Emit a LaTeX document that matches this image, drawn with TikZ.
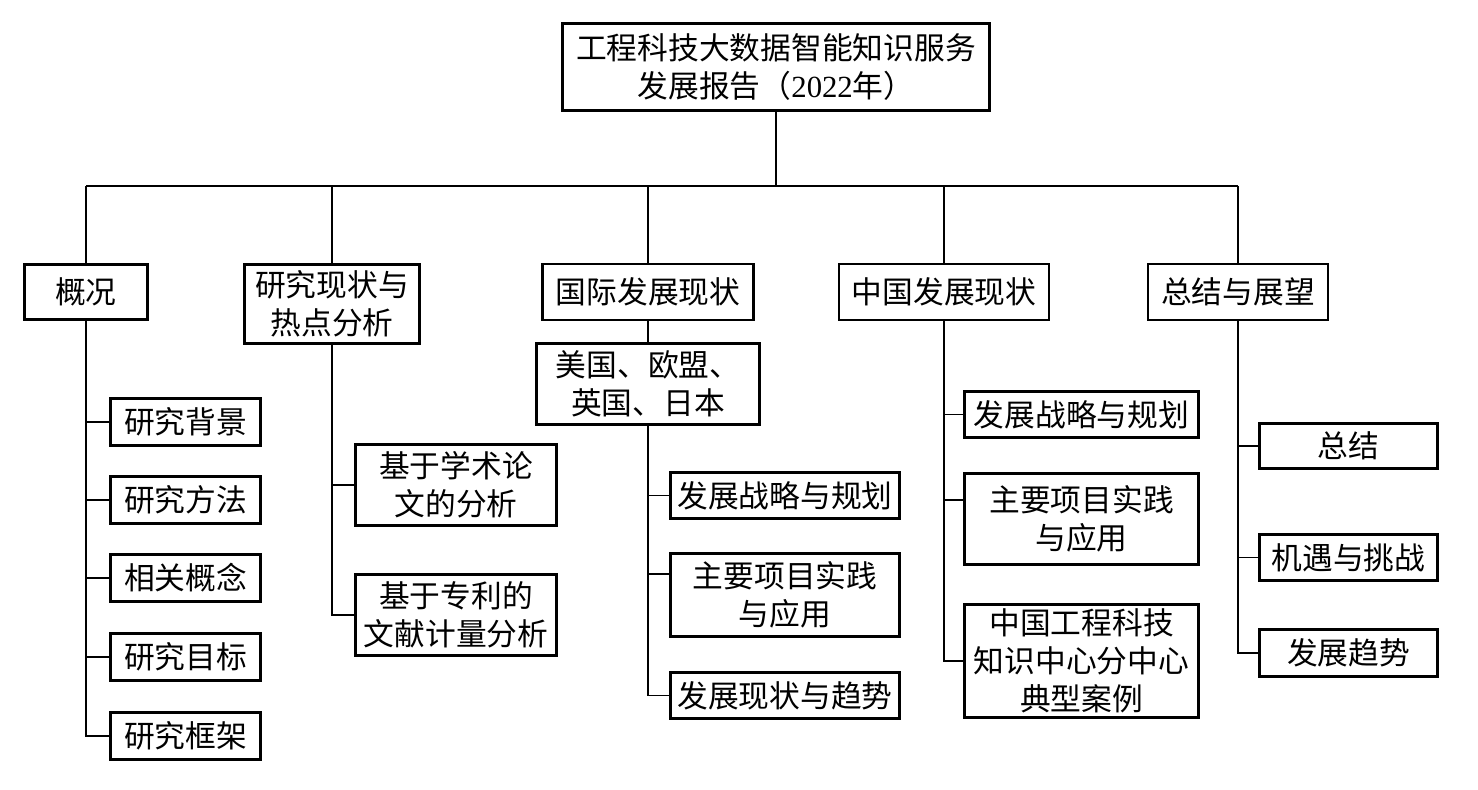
\documentclass[tikz,border=0pt]{standalone}
\usepackage{fontspec}
\setmainfont{Liberation Serif}
\newfontfamily\cjk{Noto Sans CJK SC}
\usetikzlibrary{positioning}

\begin{document}
\begin{tikzpicture}[
  x=0.02cm, y=-0.02cm,
  font=\cjk\fontsize{17.5}{21.6}\selectfont,
  box/.style={draw, line width=1.6pt, align=center, inner sep=0pt},
  link/.style={line width=0.9pt}
]
\useasboundingbox (0,0) rectangle (1478,790);
\node[box, minimum width=8.54cm, minimum height=1.74cm] (root) at (776,67) {工程科技大数据智能知识服务\\发展报告（{\rmfamily 2022}年）};
\coordinate (bus) at (0,186);
\node[box, minimum width=2.46cm, minimum height=1.1cm] (gk) at (86,292) {概况};
\node[box, minimum width=3.5cm, minimum height=1.58cm] (yj) at (332,304) {研究现状与\\热点分析};
\node[box, minimum width=4.22cm, minimum height=1.12cm] (gj) at (648,292) {国际发展现状};
\node[box, minimum width=4.46cm, minimum height=1.62cm] (mg) at (648,384) {美国、欧盟、\\英国、日本};
\node[box, minimum width=4.2cm, minimum height=1.12cm] (zg) at (944,292) {中国发展现状};
\node[box, minimum width=3.6cm, minimum height=1.12cm] (zj) at (1238,292) {总结与展望};
\node[box, minimum width=3.0cm, minimum height=0.94cm] (gk1) at (185.5,422) {研究背景};
\node[box, minimum width=3.0cm, minimum height=0.94cm] (gk2) at (185.5,500) {研究方法};
\node[box, minimum width=3.0cm, minimum height=0.94cm] (gk3) at (185.5,578) {相关概念};
\node[box, minimum width=3.0cm, minimum height=0.94cm] (gk4) at (185.5,657) {研究目标};
\node[box, minimum width=3.0cm, minimum height=0.94cm] (gk5) at (185.5,736) {研究框架};
\node[box, minimum width=4.02cm, minimum height=1.62cm] (yj1) at (456,485) {基于学术论\\文的分析};
\node[box, minimum width=4.02cm, minimum height=1.62cm] (yj2) at (456,615) {基于专利的\\文献计量分析};
\node[box, minimum width=4.58cm, minimum height=0.92cm] (gj1) at (785,495.5) {发展战略与规划};
\node[box, minimum width=4.58cm, minimum height=1.66cm] (gj2) at (785,595) {主要项目实践\\与应用};
\node[box, minimum width=4.58cm, minimum height=0.92cm] (gj3) at (785,695.5) {发展现状与趋势};
\node[box, minimum width=4.68cm, minimum height=0.92cm] (zg1) at (1081.5,414.5) {发展战略与规划};
\node[box, minimum width=4.68cm, minimum height=1.82cm] (zg2) at (1081.5,519) {主要项目实践\\与应用};
\node[box, minimum width=4.68cm, minimum height=2.26cm] (zg3) at (1081.5,661) {中国工程科技\\知识中心分中心\\典型案例};
\node[box, minimum width=3.56cm, minimum height=0.9cm] (zj1) at (1348.5,446) {总结};
\node[box, minimum width=3.56cm, minimum height=0.92cm] (zj2) at (1348.5,557.5) {机遇与挑战};
\node[box, minimum width=3.56cm, minimum height=0.94cm] (zj3) at (1348.5,653) {发展趋势};
\coordinate (gj2in) at ([yshift=0.42cm]gj2.west);
\coordinate (zg2in) at ([yshift=0.38cm]zg2.west);
\draw[link] (root.south) -- (root.south |- bus);
\draw[link] (gk.north |- bus) -- (zj.north |- bus);
\draw[link] (gk.north |- bus) -- (gk.north);
\draw[link] (yj.north |- bus) -- (yj.north);
\draw[link] (gj.north |- bus) -- (gj.north);
\draw[link] (zg.north |- bus) -- (zg.north);
\draw[link] (zj.north |- bus) -- (zj.north);
\draw[link] (gk.south) |- (gk5.west);
\draw[link] (gk.south |- gk1.west) -- (gk1.west);
\draw[link] (gk.south |- gk2.west) -- (gk2.west);
\draw[link] (gk.south |- gk3.west) -- (gk3.west);
\draw[link] (gk.south |- gk4.west) -- (gk4.west);
\draw[link] (yj.south) |- (yj2.west);
\draw[link] (yj.south |- yj1.west) -- (yj1.west);
\draw[link] (gj.south) -- (mg.north);
\draw[link] (mg.south) |- (gj3.west);
\draw[link] (mg.south |- gj1.west) -- (gj1.west);
\draw[link] (mg.south |- gj2in) -- (gj2in);
\draw[link] (zg.south) |- (zg3.west);
\draw[link] (zg.south |- zg1.west) -- (zg1.west);
\draw[link] (zg.south |- zg2in) -- (zg2in);
\draw[link] (zj.south) |- (zj3.west);
\draw[link] (zj.south |- zj1.west) -- (zj1.west);
\draw[link] (zj.south |- zj2.west) -- (zj2.west);
\end{tikzpicture}
\end{document}
